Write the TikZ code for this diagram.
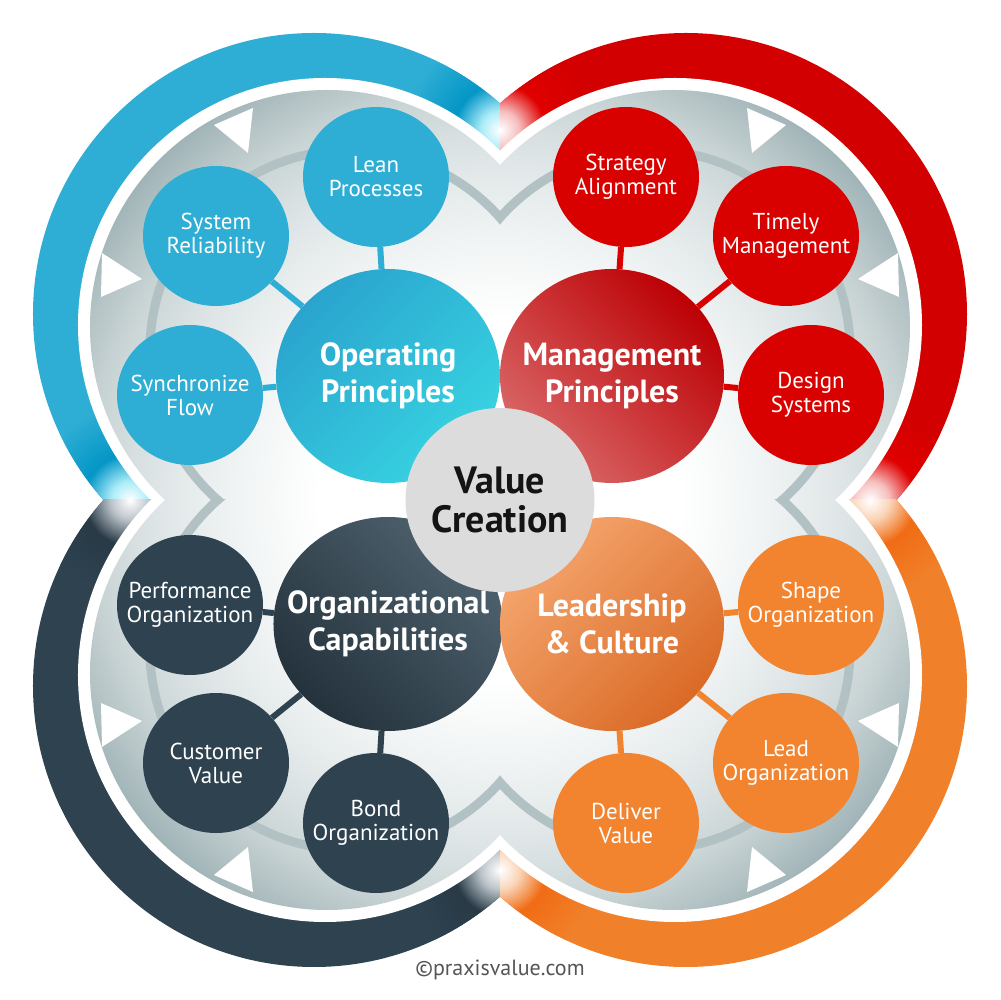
\documentclass[tikz,border=0pt]{standalone}
\usepackage{fontspec}
\setmainfont{PT Sans}
\usetikzlibrary{shapes.geometric}

% Colours of the four lobes
\definecolor{opblue}{RGB}{46,174,212}
\definecolor{opdeep}{RGB}{42,164,206}
\definecolor{opcyan}{RGB}{56,212,226}
\definecolor{opglow}{RGB}{170,236,248}
\definecolor{opring}{RGB}{4,150,198}
\definecolor{mgred}{RGB}{217,0,0}
\definecolor{mgring}{RGB}{210,0,0}
\definecolor{mgdark}{RGB}{188,0,4}
\definecolor{mgpink}{RGB}{218,104,104}
\definecolor{mgglow}{RGB}{246,190,190}
\definecolor{mgdeep}{RGB}{224,0,0}
\definecolor{ocslate}{RGB}{46,66,80}
\definecolor{ocdark}{RGB}{36,50,60}
\definecolor{oclight}{RGB}{78,98,110}
\definecolor{ocglow}{RGB}{190,198,204}
\definecolor{ocdeep}{RGB}{40,58,70}
\definecolor{lcorange}{RGB}{242,132,48}
\definecolor{lcring}{RGB}{241,128,42}
\definecolor{lcdark}{RGB}{218,106,38}
\definecolor{lclight}{RGB}{245,166,110}
\definecolor{lcglow}{RGB}{250,214,186}
\definecolor{lcdeep}{RGB}{240,108,20}
\definecolor{vcgray}{RGB}{220,220,220}
\definecolor{vctext}{RGB}{20,20,20}
\definecolor{arcgray}{RGB}{178,193,195}
\definecolor{copygray}{RGB}{85,85,85}
\definecolor{lobea}{RGB}{243,246,246}
\definecolor{lobeb}{RGB}{225,231,232}
\definecolor{lobec}{RGB}{205,215,216}
\definecolor{lobed}{RGB}{180,195,197}
\definecolor{lobee}{RGB}{160,180,183}
\definecolor{glowlite}{RGB}{255,255,255}
\definecolor{glowdeep}{RGB}{255,255,255}
\definecolor{glowbase}{RGB}{255,255,255}

\pgfdeclareradialshading{lobeshade}{\pgfpoint{0bp}{0bp}}{%
  color(0bp)=(white); color(11bp)=(white); color(15.2bp)=(lobea);
  color(20.4bp)=(lobeb); color(24.4bp)=(lobec); color(27.3bp)=(lobed);
  color(29.3bp)=(lobee); color(50bp)=(lobee)}
\pgfdeclareradialshading[glowlite,glowdeep,glowbase]{notchglow}{\pgfpoint{0bp}{0bp}}{%
  color(0bp)=(white); color(5bp)=(glowlite);
  color(12bp)=(glowdeep); color(25bp)=(glowbase); color(50bp)=(glowbase)}

\tikzset{
  bubble/.style={ellipse, fill=#1, minimum width=146pt, minimum height=140pt,
    inner xsep=-20pt, inner ysep=0pt, text=white, align=center,
    font=\fontsize{23}{24}\selectfont},
  hub/.style={ellipse, minimum width=224pt, minimum height=214pt,
    inner xsep=-20pt, inner ysep=0pt, text=white, align=center,
    font=\bfseries\fontsize{32}{36.5}\selectfont},
  link/.style={draw=#1, line width=6pt},
  bandarc/.style={draw=arcgray, line width=9pt},
}

\begin{document}
\begin{tikzpicture}[x=1pt, y=1pt]
    \useasboundingbox (-500,-500) rectangle (501,500);

    % Draw the outer rings, with a glow at each notch
    \foreach \sx/\sy/\ring/\lite/\deep in {1/1/opblue/opglow/opring, -1/1/mgring/mgglow/mgdeep,
        1/-1/ocslate/ocglow/ocdeep, -1/-1/lcring/lcglow/lcdeep}{
      \begin{scope}[xscale=\sx, yscale=\sy]
        \clip (-501,0) rectangle (0,501);
        \fill[\ring] (-186,186) circle (281);
        \clip (-186,186) circle (281);
        \colorlet{glowlite}{\lite}\colorlet{glowdeep}{\deep}\colorlet{glowbase}{\ring}
        \shade[shading=notchglow] (0,370) circle (95);
        \shade[shading=notchglow] (-370,0) circle (95);
        \fill[white] (-175,175) circle (247);
      \end{scope}
    }

    % Draw the grey lobes
    \shade[shading=lobeshade] (-173,173) circle (237) (173,173) circle (237)
        (-173,-173) circle (237) (173,-173) circle (237);

    % Draw the inner arcs and the white triangles
    \foreach \sx/\sy in {1/1, -1/1, 1/-1, -1/-1}{
      \begin{scope}[xscale=\sx, yscale=\sy]
        \begin{scope}
          \clip (-501,0) rectangle (0,501);
          \draw[bandarc] (-150,150) ++(30:200) arc[start angle=30, end angle=240, radius=200];
        \end{scope}
        \fill[white] (-247,392) -- (-252,347) -- (-286,375) -- cycle;
        \fill[white] (-398,247) -- (-399,203) -- (-358,221) -- cycle;
      \end{scope}
    }

    % Main circles
    \node[hub, top color=opdeep, bottom color=opcyan, shading angle=45] (op) at (-112,124) {Operating\\Principles};
    \node[hub, top color=mgdark, bottom color=mgpink, shading angle=-45] (mp) at (112,124) {Management\\Principles};
    \node[hub, top color=oclight, bottom color=ocdark, shading angle=-45] (oc) at (-112,-124) {Organizational\\Capabilities};
    \node[hub, top color=lclight, bottom color=lcdark, shading angle=45] (lc) at (112,-124) {Leadership\\\& Culture};

    % Small circles
    \node[bubble=opblue] (lean) at (-124,323) {Lean\\Processes};
    \node[bubble=opblue] (sysrel) at (-284,264) {System\\Reliability};
    \node[bubble=opblue] (sync) at (-310,105) {Synchronize\\Flow};
    \node[bubble=mgred] (strat) at (126,323) {Strategy\\Alignment};
    \node[bubble=mgred] (timely) at (286,264) {Timely\\Management};
    \node[bubble=mgred] (design) at (311,105) {Design\\Systems};
    \node[bubble=ocslate] (perf) at (-310,-105) {Performance\\Organization};
    \node[bubble=ocslate] (cust) at (-284,-263) {Customer\\Value};
    \node[bubble=ocslate] (bond) at (-124,-323) {Bond\\Organization};
    \node[bubble=lcorange] (shapeorg) at (311,-105) {Shape\\Organization};
    \node[bubble=lcorange] (lead) at (286,-263) {Lead\\Organization};
    \node[bubble=lcorange] (deliver) at (126,-323) {Deliver\\Value};

    % Connectors
    \foreach \a/\b/\c in {op/lean/opblue, op/sysrel/opblue, op/sync/opblue,
        mp/strat/mgred, mp/timely/mgred, mp/design/mgred,
        oc/perf/ocslate, oc/cust/ocslate, oc/bond/ocslate,
        lc/shapeorg/lcorange, lc/lead/lcorange, lc/deliver/lcorange}
      \draw[link=\c] (\a) -- (\b);

    % Centre
    \node[ellipse, fill=vcgray, minimum width=189pt, minimum height=184pt, inner xsep=-20pt,
        inner ysep=0pt, text=vctext, align=center, font=\bfseries\fontsize{38}{39}\selectfont]
        (vc) at (0,0) {Value\\Creation};

    \node[text=copygray, font=\fontsize{22}{24}\selectfont] (copy) at (0,-470) {©praxisvalue.com};
\end{tikzpicture}
\end{document}
